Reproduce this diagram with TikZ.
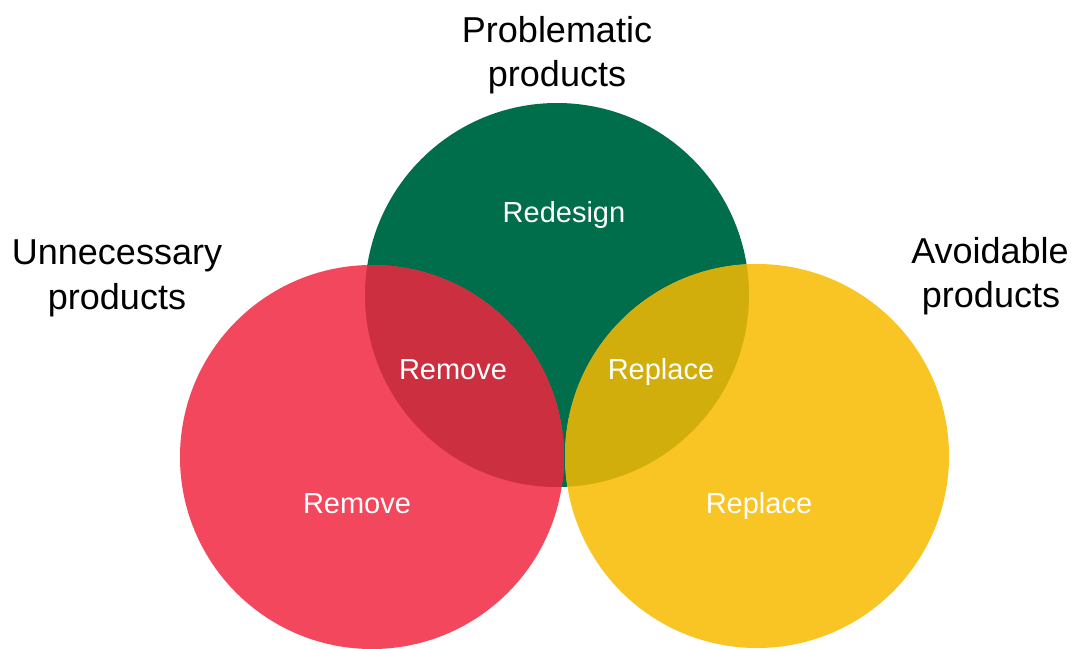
\documentclass[tikz,border=0pt]{standalone}
\usepackage{fontspec}
\setmainfont{Liberation Sans}
\definecolor{cgreen}{HTML}{006E4B}
\definecolor{cred}{HTML}{F2475C}
\definecolor{credg}{HTML}{CB2F40}
\definecolor{cyel}{HTML}{F8C524}
\definecolor{cyelg}{HTML}{D2AE0D}
\begin{document}
\begin{tikzpicture}[x=1pt,y=-1pt,
  circ/.style={circle,minimum size=384pt,inner sep=0pt,draw=none},
  outer/.style={anchor=base,font=\fontsize{36}{40}\selectfont,text=black,inner sep=0pt},
  inner/.style={anchor=base,font=\fontsize{29}{32}\selectfont,text=white,inner sep=0pt}]
\useasboundingbox[fill=white] (0,0) rectangle (1076,648);
\node[circ,fill=cgreen] (G) at (557,295) {};
\node[circ,fill=cred] (R) at (372,457) {};
\node[circ,fill=cyel] (Y) at (757,456) {};
\begin{scope}
  \clip (557,295) circle[radius=192pt];
  \fill[credg] (372,457) circle[radius=192pt];
  \fill[cyelg] (757,456) circle[radius=192pt];
\end{scope}
% outer labels
\node[outer] (t1) at (557,42) {Problematic};
\node[outer] (t2) at (557,86) {products};
\node[outer] (l1) at (117,264) {Unnecessary};
\node[outer] (l2) at (117,309) {products};
\node[outer] (r1) at (990,263) {Avoidable};
\node[outer] (r2) at (991,307) {products};
% inner labels
\node[inner] (rd) at (564,222) {Redesign};
\node[inner] (rm1) at (453,379) {Remove};
\node[inner] (rp1) at (661,379) {Replace};
\node[inner] (rm2) at (357,513) {Remove};
\node[inner] (rp2) at (759,513) {Replace};
\end{tikzpicture}
\end{document}
